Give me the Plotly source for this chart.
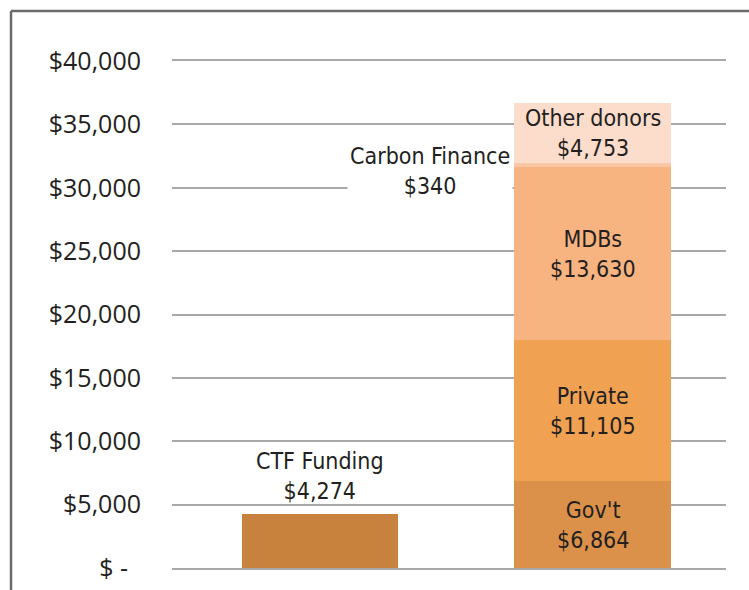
import plotly.graph_objects as go

# ---- data ----
categories = ["CTF Funding", "Co-financing"]
ctf_label = "CTF Funding"
ctf_value = 4274
stack_labels = ["Gov't", "Private", "MDBs", "Carbon Finance", "Other donors"]
stack_values = [6864, 11105, 13630, 340, 4753]
stack_colors = ["#DC914A", "#F0A152", "#F8B480", "#FAC7A4", "#FCDCCB"]
ctf_color = "#C8823E"
tick_values = [0, 5000, 10000, 15000, 20000, 25000, 30000, 35000, 40000]
tick_labels = ["$ -\u00a0\u00a0", "$5,000", "$10,000", "$15,000", "$20,000",
               "$25,000", "$30,000", "$35,000", "$40,000"]

LABEL_FONT = dict(family="DejaVu Sans Condensed, DejaVu Sans, sans-serif",
                  size=23, color="#231F20")
TICK_FONT = dict(family="Open Sans, Liberation Sans, sans-serif", size=25, color="#231F20")
GRID = "#A8A8A8"
BAR_W = 0.574

fig = go.Figure()
fig.add_trace(go.Bar(x=[categories[0]], y=[ctf_value], marker_color=ctf_color,
                     marker_line_width=0, width=BAR_W, showlegend=False, hoverinfo="skip"))
for lab, val, col in zip(stack_labels, stack_values, stack_colors):
    fig.add_trace(go.Bar(x=[categories[1]], y=[val], marker_color=col, name=lab,
                         marker_line_width=0, width=BAR_W, showlegend=False,
                         hoverinfo="skip"))

def money(v):
    return "${:,}".format(v)

anns = []
# CTF label above bar
anns.append(dict(x=0, y=ctf_value, text=ctf_label + "<br>" + money(ctf_value),
                 yanchor="bottom", yshift=8))
# stacked labels
cum = 0
for lab, val in zip(stack_labels, stack_values):
    mid = cum + val / 2
    if lab == "Carbon Finance":
        anns.append(dict(x=0.405, y=mid, text=lab + "<br>" + money(val), yshift=-6,
                         bgcolor="white", borderpad=2, yanchor="middle"))
    else:
        anns.append(dict(x=1, y=mid, text=lab + "<br>" + money(val), yanchor="middle"))
    cum += val
for a in anns:
    a.update(xref="x", yref="y", showarrow=False, font=LABEL_FONT, xanchor="center")

fig.update_layout(
    width=749, height=590,
    margin=dict(l=172, r=23, t=61, b=22, autoexpand=False),
    barmode="stack",
    plot_bgcolor="white", paper_bgcolor="white",
    annotations=anns,
    shapes=[
        dict(type="line", xref="paper", yref="paper", x0=-0.2906, x1=1.1, y0=1.0986, y1=1.0986,
             line=dict(color="#6B6B6B", width=2.5)),
        dict(type="line", xref="paper", yref="paper", x0=-0.2906, x1=-0.2906, y0=1.0986, y1=-0.1,
             line=dict(color="#6B6B6B", width=2.5)),
    ],
)
fig.update_xaxes(type="category", range=[-0.5431, 1.4899], showticklabels=False,
                 showgrid=False, zeroline=False, showline=True, mirror=True,
                 linecolor=GRID, linewidth=2, ticks="", fixedrange=True, automargin=False)
fig.update_yaxes(range=[0, 40000], tickvals=tick_values, ticktext=tick_labels,
                 tickfont=TICK_FONT, showgrid=True, gridcolor=GRID, gridwidth=2,
                 zeroline=False, showline=False, ticks="", ticklabelstandoff=30,
                 automargin=False)

fig.write_html("out.html")
